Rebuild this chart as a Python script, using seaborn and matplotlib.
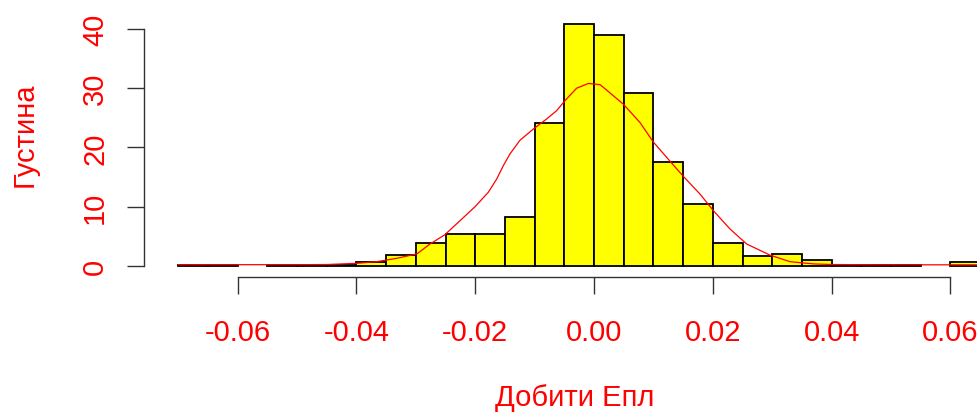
import numpy as np
import pandas as pd
import matplotlib
matplotlib.use("Agg")
import matplotlib.pyplot as plt
import seaborn as sns

# Histogram bins (width 0.005) and their density heights
bin_edges = [-0.070, -0.065, -0.060, -0.055, -0.050, -0.045, -0.040, -0.035,
             -0.030, -0.025, -0.020, -0.015, -0.010, -0.005, 0.000, 0.005,
             0.010, 0.015, 0.020, 0.025, 0.030, 0.035, 0.040, 0.045, 0.050,
             0.055, 0.060, 0.065]
density = [0.2, 0.2, 0.0, 0.2, 0.2, 0.2, 0.6, 1.8, 3.8, 5.4, 5.4, 8.2, 24.2,
           40.8, 39.0, 29.2, 17.6, 10.4, 3.8, 1.6, 2.0, 1.0, 0.2, 0.2, 0.2,
           0.0, 0.6]

# Kernel density curve
kde_x = [-0.070, -0.065, -0.060, -0.055, -0.050, -0.045, -0.040, -0.0366,
         -0.0332, -0.0298, -0.0276, -0.0251, -0.02256, -0.0200, -0.0178,
         -0.01638, -0.01527, -0.01414, -0.01246, -0.01021, -0.00797, -0.00629,
         -0.00488, -0.00292, -0.00095, 0.00101, 0.00157, 0.00494, 0.00774,
         0.00999, 0.0125, 0.01504, 0.01785, 0.0201, 0.0229, 0.0257, 0.0296,
         0.0330, 0.0370, 0.0400, 0.0450, 0.0500, 0.0550, 0.0600, 0.0650]
kde_y = [0.15, 0.17, 0.17, 0.17, 0.17, 0.2, 0.4, 0.68, 1.25, 2.0, 3.67, 5.24,
         7.6, 10.0, 12.4, 14.65, 16.9, 18.9, 21.2, 23.1, 24.8, 26.2, 27.9, 30.0,
         30.8, 30.6, 30.15, 27.3, 24.2, 20.9, 18.0, 15.1, 12.1, 9.3, 6.2, 3.67,
         1.8, 0.68, 0.3, 0.2, 0.17, 0.15, 0.15, 0.15, 0.15]

x_ticks = [-0.06, -0.04, -0.02, 0.00, 0.02, 0.04, 0.06]
x_tick_labels = ["-0.06", "-0.04", "-0.02", "0.00", "0.02", "0.04", "0.06"]
y_ticks = [0, 10, 20, 30, 40]
y_tick_labels = ["0", "10", "20", "30", "40"]

sns.set_style("white")
plt.rcParams["font.family"] = ["Liberation Sans", "DejaVu Sans"]

W, H = 978, 414
fig = plt.figure(figsize=(W / 100, H / 100), dpi=100)
ax = fig.add_axes([0, 0, 1, 1])
ax.patch.set_alpha(0)

centers = [(a + b) / 2 for a, b in zip(bin_edges[:-1], bin_edges[1:])]
df = pd.DataFrame({"ret": centers, "dens": density})
sns.histplot(data=df, x="ret", weights="dens", bins=bin_edges, stat="count",
             color="#FFFF00", edgecolor="black", linewidth=1.3, alpha=1.0,
             ax=ax)
for p in ax.patches:
    if p.get_height() <= 0:
        p.set_visible(False)

sns.lineplot(x=kde_x, y=kde_y, color="red", linewidth=0.9, ax=ax,
             estimator=None, sort=False)

# pixel mapping: x_px = 594 + 5940*x ; y_px = 266.7 - 5.917*y
ax.set_xlim((0 - 594) / 5940, (W - 594) / 5940)
ax.set_ylim((266.7 - H) / 5.917, 266.7 / 5.917)

for s in ["top", "right"]:
    ax.spines[s].set_visible(False)
ax.spines["bottom"].set_position(("data", (266.7 - 278) / 5.917))
ax.spines["bottom"].set_bounds(-0.06, 0.06)
ax.spines["left"].set_position(("data", (144 - 594) / 5940))
ax.spines["left"].set_bounds(0, 40)
for s in ["bottom", "left"]:
    ax.spines[s].set_color("#333333")
    ax.spines[s].set_linewidth(1.0)

ax.set_xticks(x_ticks)
ax.set_xticklabels(x_tick_labels)
ax.set_yticks(y_ticks)
ax.set_yticklabels(y_tick_labels, rotation=90, va="center")
ax.tick_params(axis="both", direction="out", length=12.2, width=1.0,
               color="#333333", labelcolor="red", labelsize=21, pad=17,
               bottom=True, left=True)
ax.tick_params(axis="y", pad=13)
ax.set_xlabel("")
ax.set_ylabel("")

fig.text(575 / W, 1 - 406 / H, "Добити Епл", color="red", fontsize=21,
         ha="center", va="baseline")
fig.text(25 / W, 1 - 135 / H, "Густина", color="red", fontsize=21,
         ha="center", va="center", rotation=90)

fig.savefig("out.png", dpi=100)
